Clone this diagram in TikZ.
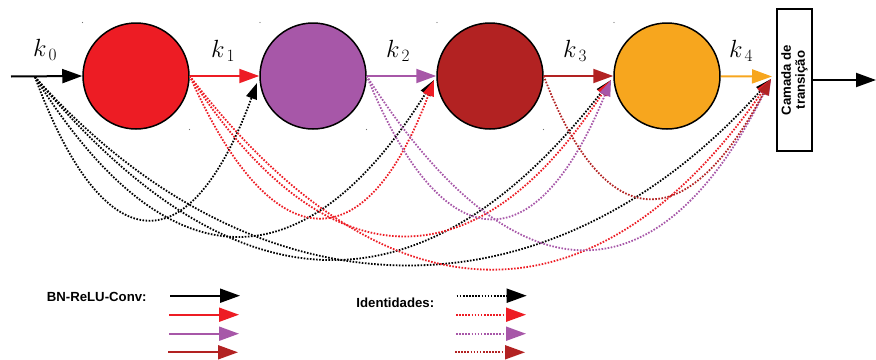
\documentclass[tikz,border=0pt]{standalone}
\usepackage{fontspec}
\setsansfont{Liberation Sans}
\usetikzlibrary{arrows.meta}
\definecolor{cred}{RGB}{237,28,36}
\definecolor{cpur}{RGB}{167,87,168}
\definecolor{cdred}{RGB}{178,34,34}
\definecolor{corg}{RGB}{247,166,30}
\begin{document}
\begin{tikzpicture}[x=1pt,y=-1pt,
  blk/.style={circle, draw=black, line width=1.5pt, minimum size=106pt, inner sep=0pt},
  mainarrow/.style={line width=2pt, -{Triangle[length=20pt,width=14pt]}},
  iden/.style={line width=1.8pt, dash pattern=on 1.6pt off 1.5pt, -{Triangle[length=16pt,width=11pt]}},
  idenleg/.style={line width=1.8pt, dash pattern=on 1.6pt off 1.5pt, -{Triangle[length=20pt,width=14pt]}},
  klabel/.style={font=\fontsize{24.5}{24.5}\selectfont, inner sep=0pt},
  legtext/.style={font=\sffamily\bfseries\fontsize{13.2}{15}\selectfont, inner sep=0pt},
  boxtext/.style={font=\sffamily\bfseries\fontsize{13.2}{14}\selectfont, align=center, inner sep=0pt, rotate=90},
  speck/.style={fill=black!55}
]
\useasboundingbox (0,0) rectangle (876,359);

% blocks
\node[blk, fill=cred]  (c1) at (136,76) {};
\node[blk, fill=cpur]  (c2) at (313,76) {};
\node[blk, fill=cdred] (c3) at (490,76) {};
\node[blk, fill=corg]  (c4) at (667,76) {};

% transition layer
\node[draw, line width=1.5pt, minimum width=35pt, minimum height=142pt, inner sep=0pt] (tr) at (794.5,80) {};
\node[boxtext] (trtext) at (tr.center) {Camada de\\transição};

% specks
\foreach \p in {(82.5,22.5),(260,22.5),(437,22.5),(614,22.5),(189.5,129.5),(366.5,129.5),(543.5,129.5)}
  \fill[speck] \p circle (0.6pt);

% coordinates
\coordinate (in) at (11,76.5);
\coordinate (s0) at (35,77);
\coordinate (k4tip) at (772,76.5);
\coordinate (out) at (876,80);
\coordinate (t1) at (257,83);
\coordinate (t2) at (434,80);
\coordinate (t3) at (611,80);
\coordinate (t4) at (771,79);

% main arrows
\draw[mainarrow] (in) -- (c1.west);
\draw[mainarrow, cred] (c1) -- (c2);
\draw[mainarrow, cpur] (c2) -- (c3);
\draw[mainarrow, cdred] (c3) -- (c4);
\draw[mainarrow, corg] (c4) -- (k4tip);
\draw[mainarrow] (tr.east) -- (out);

% labels
\node[klabel] (k0) at (45,50) {$k_{\,0}$};
\node[klabel] (k1) at (223,51) {$k_{\,1}$};
\node[klabel] (k2) at (398,51) {$k_{\,2}$};
\node[klabel] (k3) at (575,51) {$k_{\,3}$};
\node[klabel] (k4) at (741,51) {$k_{\,4}$};

% identity connections
\draw[iden, black] (s0) .. controls +(68,185) and +(-68,185) .. (t1);
\draw[iden, black] (s0) .. controls +(131,209) and +(-131,209) .. (t2);
\draw[iden, black] (s0) .. controls +(200,240) and +(-187,240) .. (t3);
\draw[iden, black] (s0) .. controls +(222,248) and +(-222,248) .. (t4);

\draw[iden, cred] (c1.east) .. controls +(82,185) and +(-69,185) .. (t2);
\draw[iden, cred] (c1.east) .. controls +(135,209) and +(-135,209) .. (t3);
\draw[iden, cred] (c1.east) .. controls +(195,254) and +(-176,254) .. (t4);

\draw[iden, cpur] (c2.east) .. controls +(76,186) and +(-76,186) .. (t3);
\draw[iden, cpur] (c2.east) .. controls +(146,228) and +(-114,228) .. (t4);

\draw[iden, cdred] (c3.east) .. controls +(61,160) and +(-85,160) .. (t4);

% legend
\node[legtext] (lg1) at (96.7,297.3) {BN-ReLU-Conv:};
\node[legtext] (lg2) at (395.3,302.7) {Identidades:};

\coordinate (a1s) at (170,295.7); \coordinate (a1e) at (240,295.7);
\coordinate (a2s) at (169,314.7); \coordinate (a2e) at (239,314.7);
\coordinate (a3s) at (169,333.7); \coordinate (a3e) at (239,333.7);
\coordinate (a4s) at (168,352.3); \coordinate (a4e) at (238,352.3);
\draw[mainarrow] (a1s) -- (a1e);
\draw[mainarrow, cred] (a2s) -- (a2e);
\draw[mainarrow, cpur] (a3s) -- (a3e);
\draw[mainarrow, cdred] (a4s) -- (a4e);

\coordinate (b1s) at (456.7,295.7); \coordinate (b1e) at (526.7,295.7);
\coordinate (b2s) at (456,314.7); \coordinate (b2e) at (526,314.7);
\coordinate (b3s) at (456,333.7); \coordinate (b3e) at (526,333.7);
\coordinate (b4s) at (455,352.3); \coordinate (b4e) at (525,352.3);
\draw[idenleg, black] (b1s) -- (b1e);
\draw[idenleg, cred] (b2s) -- (b2e);
\draw[idenleg, cpur] (b3s) -- (b3e);
\draw[idenleg, cdred] (b4s) -- (b4e);
\end{tikzpicture}
\end{document}
